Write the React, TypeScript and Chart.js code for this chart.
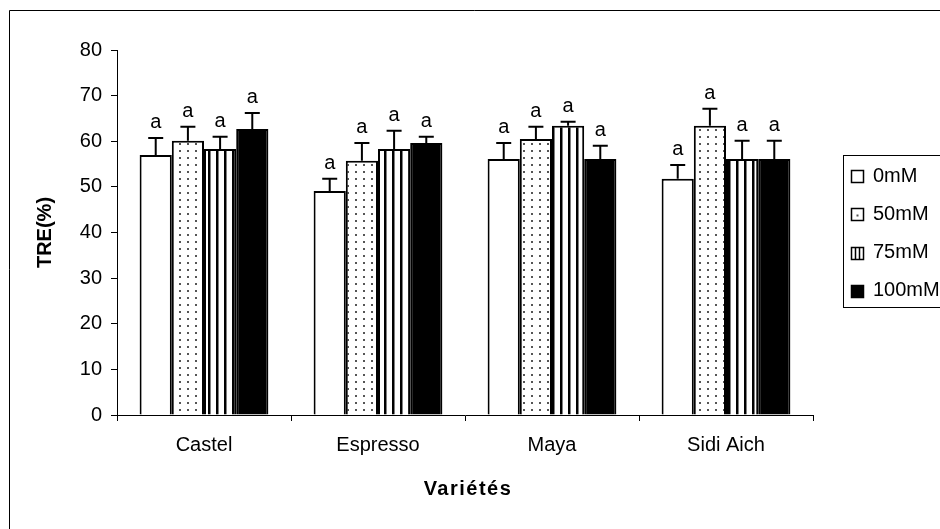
import React, { useEffect, useRef } from 'react';
import { Chart, registerables } from 'chart.js';

Chart.register(...registerables);

const categories = ['Castel', 'Espresso', 'Maya', 'Sidi Aich'];
const seriesLabels = ['0mM', '50mM', '75mM', '100mM'];
const values0 = [57.0, 49.1, 56.1, 51.8];
const values50 = [60.1, 55.7, 60.5, 63.4];
const values75 = [58.3, 58.3, 63.4, 56.1];
const values100 = [62.7, 59.6, 56.1, 56.1];
const err0 = [3.7, 2.7, 3.5, 3.0];
const err50 = [3.1, 3.9, 2.7, 3.7];
const err75 = [2.7, 4.0, 0.9, 4.0];
const err100 = [3.5, 1.4, 2.9, 4.0];
const letters0 = ['a', 'a', 'a', 'a'];
const letters50 = ['a', 'a', 'a', 'a'];
const letters75 = ['a', 'a', 'a', 'a'];
const letters100 = ['a', 'a', 'a', 'a'];
const yMin = 0;
const yMax = 80;
const yStep = 10;
const xTitle = 'Variétés';
const yTitle = 'TRE(%)';

const FONT = 'Arial, "Liberation Sans", sans-serif';

function makeDots(): CanvasPattern | string {
  const c = document.createElement('canvas');
  c.width = 8;
  c.height = 7;
  const g = c.getContext('2d');
  if (!g) return '#fff';
  g.fillStyle = '#fff';
  g.fillRect(0, 0, 8, 7);
  g.fillStyle = '#555';
  g.fillRect(3, 3, 2, 2);
  const p = g.createPattern(c, 'repeat');
  return p || '#fff';
}

function makeStripes(): CanvasPattern | string {
  const c = document.createElement('canvas');
  c.width = 8;
  c.height = 8;
  const g = c.getContext('2d');
  if (!g) return '#fff';
  g.fillStyle = '#fff';
  g.fillRect(0, 0, 8, 8);
  g.fillStyle = '#000';
  g.fillRect(0, 0, 2.5, 8);
  const p = g.createPattern(c, 'repeat');
  return p || '#fff';
}

export default function App() {
  const ref = useRef<HTMLCanvasElement | null>(null);

  useEffect(() => {
    const canvas = ref.current;
    if (!canvas) return;
    const errs = [err0, err50, err75, err100];
    const letters = [letters0, letters50, letters75, letters100];
    const fills = ['#ffffff', makeDots(), makeStripes(), '#000000'];

    const errorPlugin = {
      id: 'errorBars',
      afterDatasetsDraw(chart: any) {
        const ctx = chart.ctx;
        const ys = chart.scales.y;
        ctx.save();
        chart.data.datasets.forEach((ds: any, i: number) => {
          const meta = chart.getDatasetMeta(i);
          meta.data.forEach((el: any, j: number) => {
            const v = ds.data[j] as number;
            const e = errs[i][j];
            const yTop = ys.getPixelForValue(v);
            const yErr = ys.getPixelForValue(v + e);
            ctx.strokeStyle = '#000';
            ctx.lineWidth = 2;
            ctx.beginPath();
            ctx.moveTo(el.x, yTop);
            ctx.lineTo(el.x, yErr);
            ctx.moveTo(el.x - 7.5, yErr);
            ctx.lineTo(el.x + 7.5, yErr);
            ctx.stroke();
            ctx.fillStyle = '#000';
            ctx.font = `20px ${FONT}`;
            ctx.textAlign = 'center';
            ctx.textBaseline = 'alphabetic';
            ctx.fillText(letters[i][j], el.x, yErr - 10);
          });
        });
        ctx.restore();
      },
      afterDraw(chart: any) {
        const ctx = chart.ctx;
        ctx.save();
        // frame
        ctx.strokeStyle = '#000';
        ctx.lineWidth = 1;
        ctx.beginPath();
        ctx.moveTo(9.5, 529);
        ctx.lineTo(9.5, 10.5);
        ctx.lineTo(940, 10.5);
        ctx.stroke();
        // axis titles
        ctx.fillStyle = '#000';
        ctx.font = `bold 20px ${FONT}`;
        ctx.textAlign = 'center';
        ctx.textBaseline = 'middle';
        (ctx as any).letterSpacing = '1.5px';
        const ca = chart.chartArea;
        ctx.fillText(xTitle, (ca.left + ca.right) / 2 + 3, 489);
        (ctx as any).letterSpacing = '0px';
        ctx.save();
        ctx.translate(45, (ca.top + ca.bottom) / 2);
        ctx.rotate(-Math.PI / 2);
        ctx.fillText(yTitle, 0, 0);
        ctx.restore();
        // legend
        ctx.lineWidth = 1;
        ctx.strokeRect(843.5, 155.5, 200, 152);
        ctx.font = `20px ${FONT}`;
        ctx.textAlign = 'left';
        ctx.textBaseline = 'middle';
        seriesLabels.forEach((lab, i) => {
          const cy = 176 + i * 38.3;
          const sx = 851.5;
          const sy = Math.round(cy - 6) + 0.5;
          const s = 12;
          if (i === 3) {
            ctx.fillStyle = '#000';
            ctx.fillRect(sx, sy, s, s);
          } else {
            ctx.fillStyle = '#fff';
            ctx.fillRect(sx, sy, s, s);
          }
          ctx.strokeStyle = '#000';
          ctx.lineWidth = 1.5;
          ctx.strokeRect(sx, sy, s, s);
          if (i === 1) {
            ctx.fillStyle = '#555';
            ctx.fillRect(sx + 5, sy + 6, 2, 2);
          }
          if (i === 2) {
            ctx.lineWidth = 1.5;
            ctx.beginPath();
            ctx.moveTo(sx + 4, sy);
            ctx.lineTo(sx + 4, sy + s);
            ctx.moveTo(sx + 8, sy);
            ctx.lineTo(sx + 8, sy + s);
            ctx.stroke();
          }
          ctx.fillStyle = '#000';
          ctx.fillText(lab, 873, cy);
        });
        ctx.restore();
      },
    };

    const seriesValues = [values0, values50, values75, values100];
    const chart = new Chart(canvas, {
      type: 'bar',
      data: {
        labels: categories,
        datasets: seriesLabels.map((lab, i) => ({
          label: lab,
          data: seriesValues[i],
          backgroundColor: fills[i] as any,
          borderColor: '#000',
          borderWidth: 2,
          categoryPercentage: 0.74,
          barPercentage: 1.0,
        })),
      },
      options: {
        responsive: false,
        animation: false,
        devicePixelRatio: 1,
        layout: { padding: { top: 50, right: 127, left: 0, bottom: 0 } },
        plugins: {
          legend: { display: false },
          tooltip: { enabled: false },
          title: { display: false },
        },
        scales: {
          x: {
            grid: {
              display: true,
              drawOnChartArea: false,
              drawTicks: true,
              tickLength: 6,
              color: '#000',
              offset: true,
            },
            border: { display: true, color: '#000', width: 1 },
            ticks: { color: '#000', font: { family: FONT, size: 20 }, padding: 12 },
            afterFit: (s: any) => {
              s.height = 114;
            },
          },
          y: {
            min: yMin,
            max: yMax,
            grid: {
              display: true,
              drawOnChartArea: false,
              drawTicks: true,
              tickLength: 6,
              color: '#000',
            },
            border: { display: true, color: '#000', width: 1 },
            ticks: {
              stepSize: yStep,
              color: '#000',
              font: { family: FONT, size: 20 },
              padding: 9,
            },
            afterFit: (s: any) => {
              s.width = 117;
            },
          },
        },
      },
      plugins: [errorPlugin],
    });
    return () => chart.destroy();
  }, []);

  return (
    <div style={{ position: 'absolute', left: 0, top: 0, width: 940, height: 529, background: '#fff' }}>
      <canvas ref={ref} width={940} height={529} style={{ width: 940, height: 529, display: 'block' }} />
    </div>
  );
}
